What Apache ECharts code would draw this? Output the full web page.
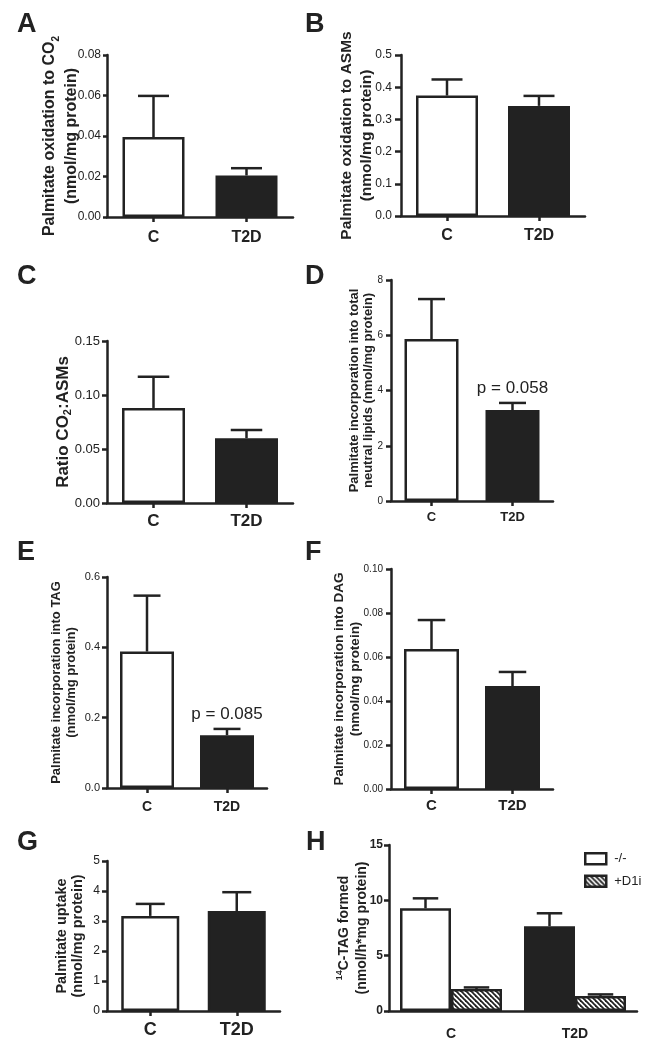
<!DOCTYPE html>
<html><head><meta charset="utf-8">
<script src="https://cdn.jsdelivr.net/npm/echarts@6/dist/echarts.min.js"></script>
<style>html,body{margin:0;padding:0;background:#fff}#c{width:657px;height:1048px}</style>
</head><body><div id="c"></div>
<script>
// ---- data ----
const categories = ['C', 'T2D'];
const aMean = [0.0395, 0.0205]; const aSem = [0.0203, 0.0036];
const bMean = [0.374, 0.342];   const bSem = [0.050, 0.031];
const cMean = [0.088, 0.060];   const cSem = [0.029, 0.0075];
const dMean = [5.86, 3.29];     const dSem = [1.45, 0.26];
const eMean = [0.388, 0.150];   const eSem = [0.159, 0.018];
const fMean = [0.0636, 0.0468]; const fSem = [0.0132, 0.0064];
const gMean = [3.17, 3.33];     const gSem = [0.40, 0.63];
const hGroups = ['C', 'T2D'];
const hSeriesNames = ['-/-', '+D1i'];
const hCtrlMean = [9.28, 7.66]; const hCtrlSem = [0.90, 1.17];
const hD1iMean = [1.98, 1.36];  const hD1iSem = [0.15, 0.14];
const dNotes = ['', 'p = 0.058'];
const eNotes = ['', 'p = 0.085'];

// ---- style ----
const FF = '"Liberation Sans", Arial, Helvetica, sans-serif';
const INK = '#222';
const LW = 2.5;

function makeHatch() {
  const s = 5;
  const c = document.createElement('canvas');
  c.width = s; c.height = s;
  const ctx = c.getContext('2d');
  ctx.fillStyle = '#fff'; ctx.fillRect(0, 0, s, s);
  ctx.strokeStyle = INK; ctx.lineWidth = 1.8;
  for (let k = -1; k <= 1; k++) {
    ctx.beginPath(); ctx.moveTo(k * s - 1, -1); ctx.lineTo(k * s + s + 1, s + 1); ctx.stroke();
  }
  return c;
}
const hatch = { image: makeHatch(), repeat: 'repeat' };

const panels = [
  { letter: 'A', lx: 17, ly: 25, grid: { left: 107, top: 55, width: 186, height: 162 }, max: 0.08, step: 0.02, dec: 2,
    mean: aMean, sem: aSem, barW: 62, yFont: 12, tickLen: 4, yMargin: 6, catFont: 16, catMargin: 13,
    ylab: { text: 'Palmitate oxidation to CO{sub|2}\n(nmol/mg protein)', x: 61, y: 136, fs: 16, lh: 22 } },
  { letter: 'B', lx: 305, ly: 25, grid: { left: 401, top: 55, width: 184, height: 161 }, max: 0.5, step: 0.1, dec: 1,
    mean: bMean, sem: bSem, barW: 62, yFont: 12, tickLen: 6, yMargin: 9, catFont: 16, catMargin: 12,
    ylab: { text: 'Palmitate oxidation to ASMs\n(nmol/mg protein)', x: 357, y: 135.5, fs: 15.5, lh: 20 } },
  { letter: 'C', lx: 17, ly: 277, grid: { left: 107, top: 341, width: 186, height: 162 }, max: 0.15, step: 0.05, dec: 2,
    mean: cMean, sem: cSem, barW: 63, yFont: 13, tickLen: 5, yMargin: 7, catFont: 17, catMargin: 10,
    ylab: { text: 'Ratio CO{sub|2}:ASMs', x: 63, y: 422, fs: 17, lh: 20 } },
  { letter: 'D', lx: 305, ly: 277, grid: { left: 391, top: 280, width: 162, height: 221 }, max: 8, step: 2, dec: 0,
    mean: dMean, sem: dSem, barW: 54, yFont: 10, tickLen: 5, yMargin: 8, catFont: 13, catMargin: 10, notes: dNotes,
    ylab: { text: 'Palmitate incorporation into total\nneutral lipids (nmol/mg protein)', x: 361, y: 390.5, fs: 13, lh: 14 } },
  { letter: 'E', lx: 17, ly: 553, grid: { left: 107, top: 577, width: 160, height: 211 }, max: 0.6, step: 0.2, dec: 1,
    mean: eMean, sem: eSem, barW: 54, yFont: 11, tickLen: 5, yMargin: 7, catFont: 14, catMargin: 12, notes: eNotes,
    ylab: { text: 'Palmitate incorporation into TAG\n(nmol/mg protein)', x: 64, y: 682.5, fs: 13, lh: 15 } },
  { letter: 'F', lx: 305, ly: 553, grid: { left: 391, top: 569, width: 162, height: 220 }, max: 0.10, step: 0.02, dec: 2,
    mean: fMean, sem: fSem, barW: 55, yFont: 10, tickLen: 5, yMargin: 8, catFont: 15, catMargin: 9,
    ylab: { text: 'Palmitate incorporation into DAG\n(nmol/mg protein)', x: 347, y: 679, fs: 13.5, lh: 16 } },
  { letter: 'G', lx: 17, ly: 843, grid: { left: 107, top: 861, width: 173, height: 150 }, max: 5, step: 1, dec: 0,
    mean: gMean, sem: gSem, barW: 58, yFont: 12, tickLen: 5, yMargin: 7, catFont: 18, catMargin: 10,
    ylab: { text: 'Palmitate uptake\n(nmol/mg protein)', x: 70, y: 936, fs: 14.5, lh: 16 } },
  { letter: 'H', lx: 306, ly: 843, grid: { left: 389, top: 845, width: 248, height: 166 }, max: 15, step: 5, dec: 0,
    barW: 51, yFont: 12, yBold: true, tickLen: 5, yMargin: 6, catFont: 14, catMargin: 16, noXTick: true, grouped: true,
    ylab: { text: '{sup|14}C-TAG formed\n(nmol/h*mg protein)', x: 353, y: 928, fs: 14, lh: 18 } }
];

function errRender(offset, capW, notes) {
  return function (params, api) {
    const idx = api.value(0);
    const p0 = api.coord([idx, api.value(1)]);
    const p1 = api.coord([idx, api.value(2)]);
    const x = p0[0] + offset;
    const children = [
      { type: 'line', shape: { x1: x, y1: p0[1], x2: x, y2: p1[1] }, style: { stroke: INK, lineWidth: LW } },
      { type: 'line', shape: { x1: x - capW / 2, y1: p1[1], x2: x + capW / 2, y2: p1[1] }, style: { stroke: INK, lineWidth: LW } }
    ];
    if (notes && notes[params.dataIndex]) {
      children.push({ type: 'text', x: x, y: p1[1] - 6,
        style: { text: notes[params.dataIndex], fontSize: 17, fontFamily: FF, fill: INK, align: 'center', verticalAlign: 'bottom' } });
    }
    return { type: 'group', children };
  };
}

const grids = [], xAxes = [], yAxes = [], series = [], graphics = [];
panels.forEach((p, i) => {
  grids.push(Object.assign({}, p.grid));
  xAxes.push({
    type: 'category', gridIndex: i, data: p.grouped ? hGroups : categories,
    axisLine: { show: true, lineStyle: { color: INK, width: LW } },
    axisTick: { show: !p.noXTick, alignWithLabel: true, length: 5, lineStyle: { color: INK, width: LW } },
    axisLabel: { fontFamily: FF, fontSize: p.catFont, fontWeight: 'bold', color: INK, margin: p.catMargin },
    splitLine: { show: false }
  });
  yAxes.push({
    type: 'value', gridIndex: i, min: 0, max: p.max, interval: p.step,
    axisLine: { show: true, lineStyle: { color: INK, width: LW } },
    axisTick: { show: true, length: p.tickLen, lineStyle: { color: INK, width: LW } },
    axisLabel: { fontFamily: FF, fontSize: p.yFont, fontWeight: p.yBold ? 'bold' : 'normal', color: INK, margin: p.yMargin,
      formatter: v => Number(v).toFixed(p.dec) },
    splitLine: { show: false }
  });
  if (!p.grouped) {
    series.push({
      type: 'bar', xAxisIndex: i, yAxisIndex: i, barWidth: p.barW, silent: true,
      itemStyle: { borderColor: INK, borderWidth: LW },
      data: p.mean.map((v, k) => ({ value: v, itemStyle: { color: k === 0 ? '#fff' : INK } }))
    });
    series.push({
      type: 'custom', xAxisIndex: i, yAxisIndex: i, clip: false, silent: true, z: 5,
      renderItem: errRender(0, p.barW / 2, p.notes),
      data: p.mean.map((v, k) => [k, v, v + p.sem[k]])
    });
  } else {
    series.push({
      name: hSeriesNames[0], type: 'bar', xAxisIndex: i, yAxisIndex: i, barWidth: p.barW, barGap: '0%', silent: true,
      itemStyle: { color: '#fff', borderColor: INK, borderWidth: LW },
      data: hCtrlMean.map((v, k) => ({ value: v, itemStyle: { color: k === 0 ? '#fff' : INK } }))
    });
    series.push({
      name: hSeriesNames[1], type: 'bar', xAxisIndex: i, yAxisIndex: i, barWidth: p.barW, barGap: '0%', silent: true,
      itemStyle: { color: hatch, borderColor: INK, borderWidth: LW },
      data: hD1iMean.slice()
    });
    series.push({
      type: 'custom', xAxisIndex: i, yAxisIndex: i, clip: false, silent: true, z: 5,
      renderItem: errRender(-p.barW / 2, p.barW / 2),
      data: hCtrlMean.map((v, k) => [k, v, v + hCtrlSem[k]])
    });
    series.push({
      type: 'custom', xAxisIndex: i, yAxisIndex: i, clip: false, silent: true, z: 5,
      renderItem: errRender(p.barW / 2, p.barW / 2),
      data: hD1iMean.map((v, k) => [k, v, v + hD1iSem[k]])
    });
  }
  graphics.push({ type: 'text', x: p.lx, y: p.ly,
    style: { text: p.letter, fontFamily: FF, fontSize: 27, fontWeight: 'bold', fill: INK, align: 'left', verticalAlign: 'middle' } });
  graphics.push({ type: 'text', x: p.ylab.x, y: p.ylab.y, rotation: Math.PI / 2,
    style: { text: p.ylab.text, fontFamily: FF, fontSize: p.ylab.fs, fontWeight: 'bold', fill: INK, lineHeight: p.ylab.lh,
      align: 'center', verticalAlign: 'middle',
      rich: {
        sub: { fontFamily: FF, fontSize: Math.round(p.ylab.fs * 0.65), fontWeight: 'bold', fill: INK, verticalAlign: 'bottom', lineHeight: p.ylab.lh },
        sup: { fontFamily: FF, fontSize: Math.round(p.ylab.fs * 0.65), fontWeight: 'bold', fill: INK, verticalAlign: 'top', lineHeight: p.ylab.lh }
      } } });
});

const chart = echarts.init(document.getElementById('c'), null, { renderer: 'canvas' });
chart.setOption({
  animation: false,
  backgroundColor: '#fff',
  grid: grids, xAxis: xAxes, yAxis: yAxes, series: series, graphic: graphics,
  legend: {
    data: hSeriesNames, orient: 'vertical', left: 584, top: 852, padding: 0,
    itemWidth: 21, itemHeight: 11, itemGap: 9, icon: 'rect',
    itemStyle: { borderColor: INK, borderWidth: 2.5 },
    textStyle: { fontFamily: FF, fontSize: 13, color: INK, padding: [0, 0, 0, 3] },
    selectedMode: false
  }
});
</script></body></html>
